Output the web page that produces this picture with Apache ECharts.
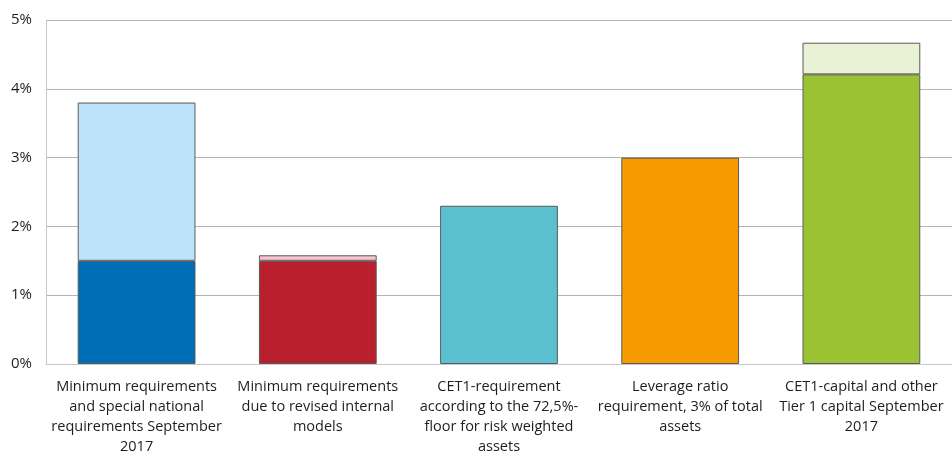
<!DOCTYPE html>
<html>
<head>
<meta charset="utf-8">
<script src="https://cdn.jsdelivr.net/npm/echarts@6/dist/echarts.min.js"></script>
<style>
  html, body { margin: 0; padding: 0; background: #ffffff; }
  #chart { width: 952px; height: 451px; }
</style>
</head>
<body>
<div id="chart"></div>
<script>
// Category labels (line breaks as printed under each column)
const categories = [
  'Minimum requirements\nand special national\nrequirements September\n2017',
  'Minimum requirements\ndue to revised internal\nmodels',
  'CET1-requirement\naccording to the 72,5%-\nfloor for risk weighted\nassets',
  'Leverage ratio\nrequirement, 3% of total\nassets',
  'CET1-capital and other\nTier 1 capital September\n2017'
];
// Lower segment of each column (per cent)
const baseValues = [1.5, 1.5, 2.3, 3.0, 4.21];
// Upper segment stacked on top (per cent)
const topValues = [2.3, 0.08, 0, 0, 0.46];
const baseColors = ['#006eb6', '#ba1f2d', '#5bc0d0', '#f59b00', '#9ac232'];
const topColors = ['#bde3fb', '#f7c5ca', '#ffffff', '#ffffff', '#eaf2d6'];
// Y axis range and ticks
const yMin = 0, yMax = 5, yStep = 1;

const chart = echarts.init(document.getElementById('chart'));
const border = { borderColor: '#5a5a5a', borderWidth: 1 };

chart.setOption({
  animation: false,
  grid: { left: 46, right: 0, top: 20, bottom: 87, containLabel: false, outerBoundsMode: 'none' },
  xAxis: {
    type: 'category',
    data: categories,
    axisLine: { show: true, lineStyle: { color: '#c8c8c8', width: 1 } },
    axisTick: { show: false },
    axisLabel: {
      interval: 0,
      color: '#1e1e1e',
      fontFamily: 'Open Sans',
      fontSize: 14.5,
      lineHeight: 20,
      margin: 13
    }
  },
  yAxis: {
    type: 'value',
    min: yMin, max: yMax, interval: yStep,
    axisLine: { show: true, lineStyle: { color: '#c8c8c8' } },
    axisTick: { show: false },
    splitLine: { lineStyle: { color: '#b4b4b4', width: 1 } },
    axisLabel: {
      formatter: v => v + '%',
      color: '#1e1e1e',
      fontFamily: 'Open Sans',
      fontSize: 15,
      margin: 14
    }
  },
  series: [
    {
      type: 'bar',
      stack: 'total',
      barWidth: '65%',
      data: baseValues.map((v, i) => ({ value: v, itemStyle: { color: baseColors[i], ...border } }))
    },
    {
      type: 'bar',
      stack: 'total',
      barWidth: '65%',
      data: topValues.map((v, i) => v > 0
        ? { value: v, itemStyle: { color: topColors[i], ...border } }
        : { value: '-', itemStyle: { color: topColors[i] } })
    }
  ]
});
</script>
</body>
</html>
